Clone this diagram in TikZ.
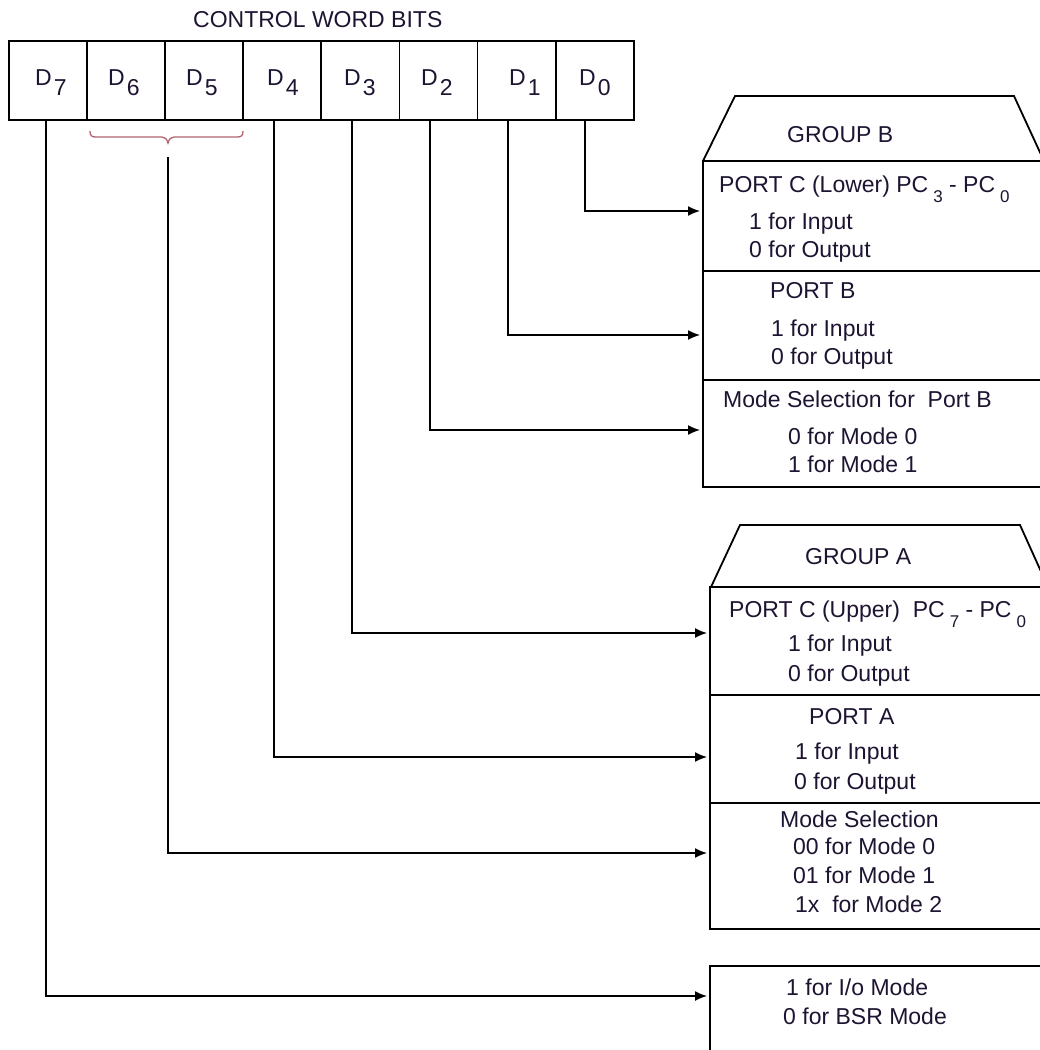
\documentclass[tikz,border=0pt]{standalone}
\usepackage{fontspec}
\setmainfont{Liberation Sans}
\usetikzlibrary{arrows.meta}
\definecolor{txt}{RGB}{30,20,50}
\definecolor{bracec}{RGB}{176,100,110}
\newcommand{\lowsub}[1]{\raisebox{-10pt}{#1}}
\newcommand{\smsub}[1]{\raisebox{-10pt}{\fontsize{17}{17}\selectfont #1}}
\begin{document}
\begin{tikzpicture}[x=1pt,y=-1pt,
  lbl/.style={anchor=base west, inner sep=0pt, text=txt, font=\fontsize{23}{28}\selectfont},
  cell/.style={draw, line width=1.8pt, minimum width=78.1pt, minimum height=79pt, inner sep=0pt, anchor=north west},
  box/.style={line width=1.8pt},
  arr/.style={line width=1.5pt, -{Latex[length=12pt,width=10pt]}}]
\useasboundingbox (0,0) rectangle (1040,1050);
\clip (0,0) rectangle (1040,1050);
\fill[white] (0,0) rectangle (1040,1050);

% title and bit cells
\node[lbl] (title) at (193,27) {CONTROL WORD BITS};
\foreach \i [evaluate=\i as \n using int(7-\i)] in {0,...,7}
  \node[cell] (c\n) at ({8+\i*78.1},40) {};
\node[lbl] (l7) at (35,85) {D\hspace{2pt}\lowsub{7}};
\node[lbl] (l6) at (108,85) {D\hspace{2pt}\lowsub{6}};
\node[lbl] (l5) at (186,85) {D\hspace{2pt}\lowsub{5}};
\node[lbl] (l4) at (267,85) {D\hspace{2pt}\lowsub{4}};
\node[lbl] (l3) at (344,85) {D\hspace{2pt}\lowsub{3}};
\node[lbl] (l2) at (421,85) {D\hspace{2pt}\lowsub{2}};
\node[lbl] (l1) at (509,85) {D\hspace{2pt}\lowsub{1}};
\node[lbl] (l0) at (579,85) {D\hspace{2pt}\lowsub{0}};

% brace under D6 D5
\draw[bracec, line width=1.3pt] (90,131) .. controls (90,136) and (92,137) .. (96,137) -- (162,137)
  .. controls (165,137) and (167,139) .. (168,143)
  .. controls (169,139) and (171,137) .. (174,137) -- (237,137)
  .. controls (241,137) and (243,136) .. (243,131);

% group B
\draw[box] (703,161) -- (735,96) -- (1014,96) -- (1044,161);
\draw[box] (703,161) rectangle (1046,487);
\draw[box] (703,271) -- (1046,271);
\draw[box] (703,380) -- (1046,380);
\node[lbl] (gB) at (787,142) {GROUP B};
\node[lbl] (pcl) at (719,192) {PORT C (Lower) PC\hspace{5pt}\smsub{3} - PC\hspace{5pt}\smsub{0}};
\node[lbl] (pcl1) at (749,229) {1 for Input};
\node[lbl] (pcl2) at (749,257) {0 for Output};
\node[lbl] (pb) at (770,298) {PORT B};
\node[lbl] (pb1) at (771,336) {1 for Input};
\node[lbl] (pb2) at (771,364) {0 for Output};
\node[lbl] (msb) at (723,407) {Mode Selection for\ \ Port B};
\node[lbl] (msb1) at (788,444) {0 for Mode 0};
\node[lbl] (msb2) at (788,472) {1 for Mode 1};

% group A
\draw[box] (711,587) -- (740,525) -- (1020,525) -- (1048,587);
\draw[box] (710,587) rectangle (1046,929);
\draw[box] (710,695) -- (1046,695);
\draw[box] (710,803) -- (1046,803);
\node[lbl] (gA) at (805,564) {GROUP A};
\node[lbl] (pcu) at (729,617) {PORT C (Upper)\ \ PC\hspace{5pt}\smsub{7} - PC\hspace{5pt}\smsub{0}};
\node[lbl] (pcu1) at (788,651) {1 for Input};
\node[lbl] (pcu2) at (788,681) {0 for Output};
\node[lbl] (pa) at (809,724) {PORT A};
\node[lbl] (pa1) at (795,759) {1 for Input};
\node[lbl] (pa2) at (794,789) {0 for Output};
\node[lbl] (msa) at (780,827) {Mode Selection};
\node[lbl] (msa1) at (793,854) {00 for Mode 0};
\node[lbl] (msa2) at (793,883) {01 for Mode 1};
\node[lbl] (msa3) at (795,912) {1x\ \ for Mode 2};

% mode box
\draw[box] (710,1060) -- (710,966) -- (1050,966);
\node[lbl] (md1) at (786,995) {1 for I/o Mode};
\node[lbl] (md2) at (783,1024) {0 for BSR Mode};

% connector start/end points
\coordinate (s0) at (585,119); \coordinate (e0) at (700,211);
\coordinate (s1) at (508,119); \coordinate (e1) at (700,335);
\coordinate (s2) at (430,119); \coordinate (e2) at (700,430);
\coordinate (s3) at (352,119); \coordinate (e3) at (707,633);
\coordinate (s4) at (274,119); \coordinate (e4) at (707,757);
\coordinate (s56) at (168,157); \coordinate (e56) at (707,853);
\coordinate (s7) at (46,119); \coordinate (e7) at (707,996);
\foreach \k in {0,1,2,3,4,56,7}
  \draw[arr] (s\k) |- (e\k);
\end{tikzpicture}
\end{document}
